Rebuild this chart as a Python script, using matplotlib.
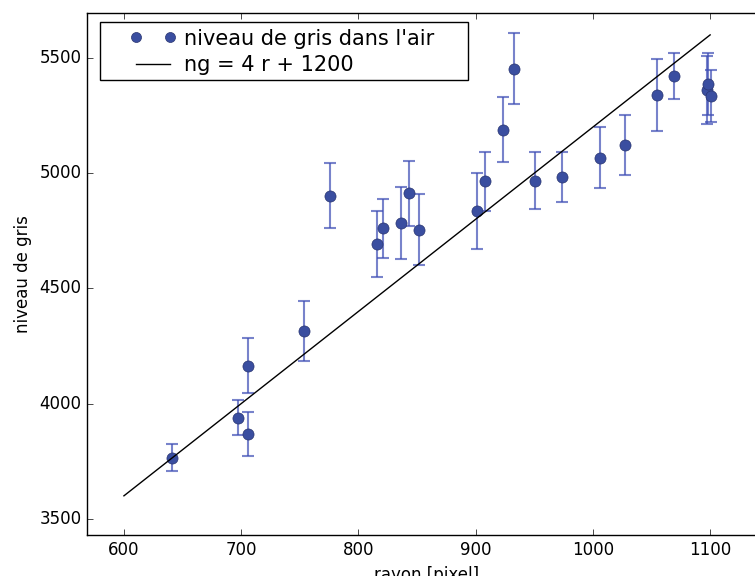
import numpy as np
from matplotlib import pyplot as plt
from matplotlib.patches import Rectangle

# mesures : rayon (pixel), niveau de gris, incertitude
rayon = [641, 697, 706, 706, 754, 776, 816, 821, 836, 843, 852,
         901, 908, 923, 933, 951, 974, 1006, 1027, 1055, 1069,
         1097, 1098, 1101]
niveau = [3766, 3939, 3869, 4164, 4316, 4902, 4693, 4760, 4784, 4912, 4755,
          4835, 4964, 5189, 5454, 4968, 4983, 5068, 5123, 5340, 5421,
          5360, 5387, 5335]
erreur = [60, 75, 95, 120, 130, 140, 145, 127, 157, 142, 155,
          165, 127, 140, 153, 125, 110, 132, 130, 155, 101,
          147, 133, 112]

# droite ajustee ng = 4 r + 1200
r_fit = [600, 1100]
a, b = 4, 1200

plt.style.use('classic')
fig = plt.figure(figsize=(7.55, 5.76), dpi=100)
fig.patch.set_facecolor('white')
ax = fig.add_axes([87/755, 41/576, 680/755, 522/576])

ax.errorbar(rayon, niveau, yerr=erreur, fmt='none', ecolor='#3f4fb5',
            alpha=0.7, elinewidth=1.5, capsize=4, capthick=1.5)
ax.plot(rayon, niveau, 'o', color='#3a4ea0', markeredgecolor='#2a3570',
        markersize=8, label="niveau de gris dans l'air")
r_fit = np.array(r_fit)
ax.plot(r_fit, a*r_fit + b, 'k-', lw=1, label='ng = 4 r + 1200')

ax.set_xlim(568.5, 1148.5)
ax.set_ylim(3430, 5695)
ax.set_xticks([600, 700, 800, 900, 1000, 1100])
ax.set_yticks([3500, 4000, 4500, 5000, 5500])
ax.tick_params(labelsize=12)
ax.set_xlabel('rayon [pixel]', fontsize=12)
ax.set_ylabel('niveau de gris', fontsize=12)

# legende sans cadre + cadre dessine a part (plus de marge horizontale)
ax.legend(loc='upper left', bbox_to_anchor=(0.0632, 0.970), numpoints=2,
          fontsize=15, frameon=False, borderpad=0, borderaxespad=0,
          handlelength=2.24, handletextpad=0.35, labelspacing=0.3,
          markerscale=0.9)
ax.add_patch(Rectangle((0.0191, 0.8716), 0.5412, 0.1112,
                       transform=ax.transAxes, fill=True, facecolor='white',
                       edgecolor='black', lw=1, zorder=4.9))

fig.savefig('out.png', dpi=100, facecolor='white')
